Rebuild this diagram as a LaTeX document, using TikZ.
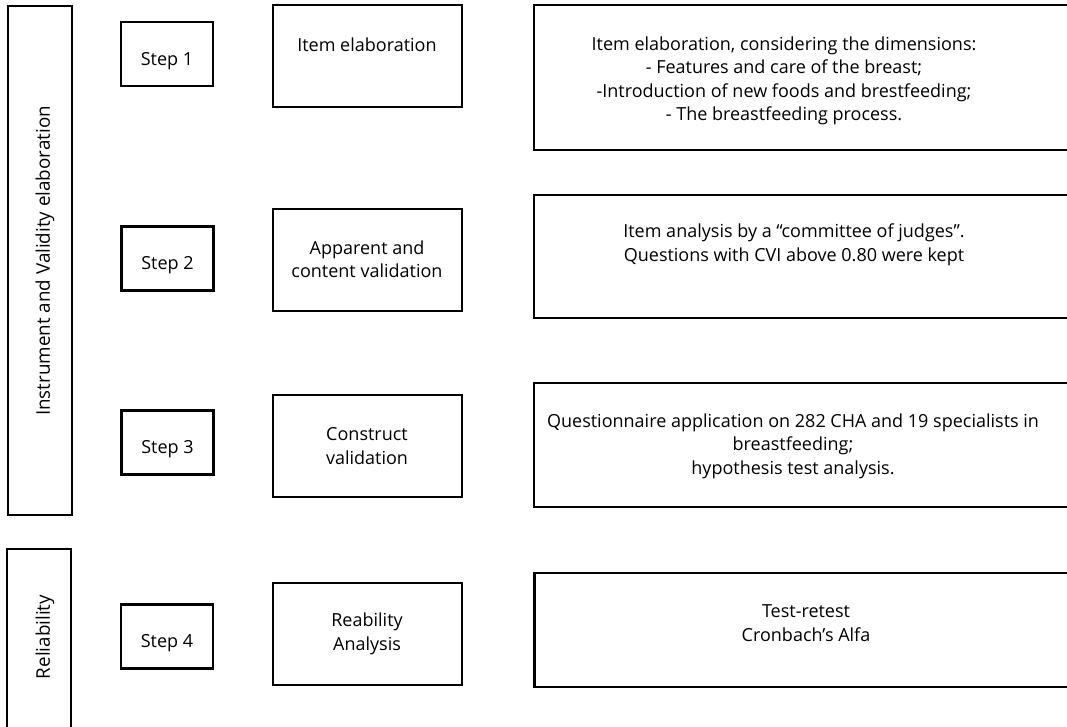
\documentclass[tikz,border=0pt]{standalone}
\usepackage{fontspec}
\setmainfont{Open Sans}

\begin{document}
\begin{tikzpicture}[x=1pt, y=-1pt]
		\tikzset{
			every node/.style={
				align=center,
				inner sep=0pt,
				font=\fontsize{18}{23.5}\selectfont
			},
			box/.style={
				draw,
				rectangle,
				line width=2.2pt
			},
			phase/.style={
				box,
				minimum width=64
			},
			stepbox/.style={
				box,
				minimum width=92,
				minimum height=64
			},
			task/.style={
				box,
				minimum width=189,
				minimum height=102
			},
			detail/.style={
				box,
				minimum width=546
			},
			sideways/.style={
				rotate=90,
				font=\fontsize{18.8}{23.5}\selectfont
			}
		}

		\useasboundingbox (0,0) rectangle (1067,726);
		\clip (0,0) rectangle (1067,726);

		% phases on the left
		\node[phase, minimum height=509] (phase1) at (40, 260.5) {};
		\node[phase, minimum height=191] (phase2) at (39, 644.5) {};
		\node[sideways] (phase1-text) at (45, 261)
			{Instrument and Validity elaboration};
		\node[sideways] (phase2-text) at (45, 637)
			{Reliability};

		% steps
		\node[stepbox] (step1) at (167, 54) {};
		\node[stepbox] (step2) at (167.5, 258.5) {};
		\node[stepbox] (step3) at (167.5, 442.5) {};
		\node[stepbox] (step4) at (167, 636.5) {};
		\node (step1-text) at (167, 61) {Step 1};
		\node (step2-text) at (167.5, 265) {Step 2};
		\node (step3-text) at (167.5, 449) {Step 3};
		\node (step4-text) at (167, 643) {Step 4};

		% tasks
		\node[task] (task1) at (367.5, 56) {};
		\node[task] (task2) at (367.5, 260) {};
		\node[task] (task3) at (367.5, 446) {};
		\node[task] (task4) at (367.5, 634) {};
		\node (task1-text) at (367, 45)
			{Item elaboration};
		\node (task2-text) at (367, 259)
			{Apparent and\\ content validation};
		\node (task3-text) at (367, 446)
			{Construct\\ validation};
		\node (task4-text) at (367, 634)
			{Reability\\ Analysis};

		% details on the right
		\node[detail, minimum height=145] (detail1) at (807, 77.5) {};
		\node[detail, minimum height=123] (detail2) at (807, 256.5) {};
		\node[detail, minimum height=124] (detail3) at (807, 445) {};
		\node[detail, minimum height=114] (detail4) at (807.5, 630) {};
		\node (detail1-text) at (784, 81)
			{Item elaboration, considering the dimensions:\\
			- Features and care of the breast;\\
			-Introduction of new foods and brestfeeding;\\
			- The breastfeeding process.};
		\node (detail2-text) at (794, 245)
			{Item analysis by a “committee of judges”.\\
			Questions with CVI above 0.80 were kept};
		\node (detail3-text) at (793, 446)
			{Questionnaire application on 282 CHA and 19 specialists in\\
			breastfeeding;\\
			hypothesis test analysis.};
		\node (detail4-text) at (806, 623)
			{Test-retest\\ Cronbach’s Alfa};

	\end{tikzpicture}
\end{document}
